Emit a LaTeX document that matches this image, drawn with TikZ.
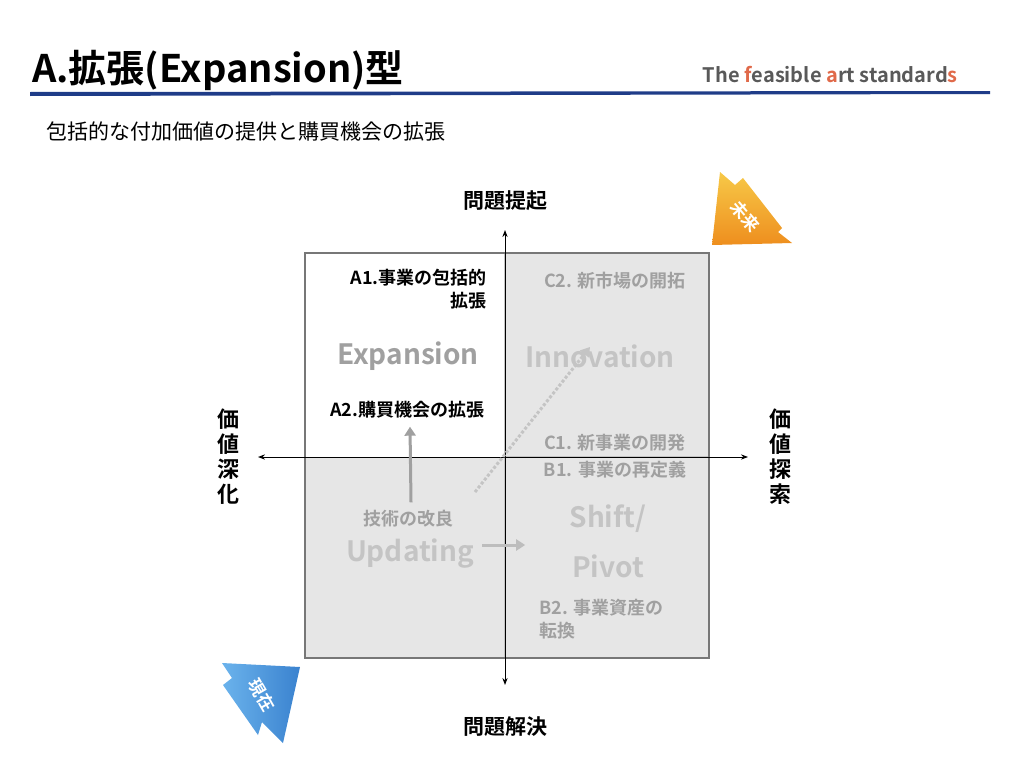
\documentclass[tikz,border=0pt]{standalone}
\usepackage{fontspec}
\setmainfont{Noto Sans CJK JP}
\newfontfamily\jpbold{Noto Sans CJK JP Bold}
\usetikzlibrary{arrows.meta}
\definecolor{frame}{HTML}{777777}
\definecolor{fillgray}{HTML}{E6E6E6}
\definecolor{midgray}{HTML}{A0A0A0}
\definecolor{lightgray}{HTML}{C4C4C4}
\definecolor{brush}{HTML}{1F3C88}
\definecolor{accent}{HTML}{E06A4A}
\definecolor{futuretop}{HTML}{F7C948}
\definecolor{futurebot}{HTML}{EE8E1E}
\definecolor{nowlight}{HTML}{6BB3EC}
\definecolor{nowdark}{HTML}{3A82CF}
\tikzset{
  lbl/.style={font=\jpbold\fontsize{18}{23}\selectfont, inner sep=0pt},
  big/.style={font=\jpbold\fontsize{28}{30}\selectfont, inner sep=0pt},
  axlbl/.style={font=\jpbold\fontsize{21}{25}\selectfont, inner sep=0pt, align=center},
  graytip/.style={midgray, line width=3pt, -{Triangle[length=9pt,width=11pt]}}
}
\begin{document}
\begin{tikzpicture}[x=1pt, y=-1pt]
  \useasboundingbox (0,0) rectangle (1024,768);
  %% header
  \node[anchor=west, inner sep=0pt, font=\jpbold\fontsize{38}{42}\selectfont] (title) at (32,70) {A.拡張(Expansion)型};
  \node[anchor=east, inner sep=0pt, text=black!65, font=\jpbold\fontsize{20}{24}\selectfont] (brand) at (958,75)
       {The \textcolor{accent}{f}easible \textcolor{accent}{a}rt standard\textcolor{accent}{s}};
  \fill[brush] (30,92) -- (990,91) -- (990,94) -- (30,96) -- cycle;
  \node[anchor=west, inner sep=0pt, font=\fontsize{21}{25}\selectfont] (sub) at (46,131) {包括的な付加価値の提供と購買機会の拡張};
  %% quadrants
  \fill[fillgray] (305,253) rectangle (709,658);
  \fill[white] (305,253) rectangle (505,457);
  \draw[lightgray, line width=1.5pt] (505,253) -- (505,658);
  \draw[lightgray, line width=1.5pt] (505,457) -- (709,457);
  \draw[frame, line width=2pt] (305,253) rectangle (709,658);
  %% axes
  \coordinate (top) at (505,230);
  \coordinate (bottom) at (505,685);
  \coordinate (left) at (258,457);
  \coordinate (right) at (748,457);
  \draw[line width=1pt, -{Stealth[length=7pt]}] (505,457) -- (top);
  \draw[line width=1pt, -{Stealth[length=7pt]}] (505,457) -- (bottom);
  \draw[line width=1pt, -{Stealth[length=7pt]}] (505,457) -- (left);
  \draw[line width=1pt, -{Stealth[length=7pt]}] (505,457) -- (right);
  \draw[black, line width=1pt] (505,253) -- (505,457) -- (305,457);
  \node[axlbl] (up) at (505,201) {問題提起};
  \node[axlbl] (down) at (505,727) {問題解決};
  \node[axlbl, font=\jpbold\fontsize{22}{25}\selectfont] (deep) at (228,457) {価\\値\\深\\化};
  \node[axlbl, font=\jpbold\fontsize{22}{25}\selectfont] (explore) at (780,457) {価\\値\\探\\索};
  %% quadrant texts
  \node[lbl, align=right, anchor=north east] (a1) at (487,269) {A1.事業の包括的\\拡張};
  \node[big, text=midgray] (expansion) at (408,356) {Expansion};
  \node[big, text=lightgray] (innovation) at (600,356) {Innovation};
  \node[lbl] (a2) at (407,410) {A2.購買機会の拡張};
  \node[lbl, text=midgray] (c2) at (615,281) {C2. 新市場の開拓};
  \node[lbl, text=midgray] (c1) at (615,443) {C1. 新事業の開発};
  \node[lbl, text=midgray] (b1) at (615,470) {B1. 事業の再定義};
  \node[lbl, text=midgray] (tech) at (408,519) {技術の改良};
  \node[big, text=lightgray] (updating) at (410,554) {Updating};
  \node[big, text=lightgray] (shift) at (608,519) {Shift/};
  \node[big, text=lightgray] (pivot) at (608,566) {Pivot};
  \node[lbl, text=midgray, align=left, anchor=north west] (b2) at (539,599) {B2. 事業資産の\\転換};
  %% movement arrows
  \draw[graytip] ([xshift=3pt,yshift=8pt]tech.north) -- ([xshift=3pt,yshift=-8pt]a2.south);
  \draw[graytip, lightgray!80!midgray] (updating.east) ++(8,-9) -- ++(43,0);
  \draw[lightgray, line width=3pt, dotted, -{Triangle[length=9pt,width=11pt]}] (475,492) -- (590,347);
  %% corner badges
  \shade[top color=futuretop, bottom color=futurebot]
    (720,172) -- (735,185) -- (743,178) -- (782,228) -- (778,232) -- (792,243) -- (712,245) -- cycle;
  \node[text=white, rotate=-50, inner sep=0pt, font=\jpbold\fontsize{17}{18}\selectfont] (future) at (745,216) {未来};
  \shade[left color=nowlight, right color=nowdark]
    (222,663) -- (300,667) -- (283,743) -- (262,722) -- (258,735) -- (223,685) -- (232,678) -- cycle;
  \node[text=white, rotate=-60, inner sep=0pt, font=\jpbold\fontsize{17}{18}\selectfont] (now) at (262,695) {現在};
\end{tikzpicture}
\end{document}
